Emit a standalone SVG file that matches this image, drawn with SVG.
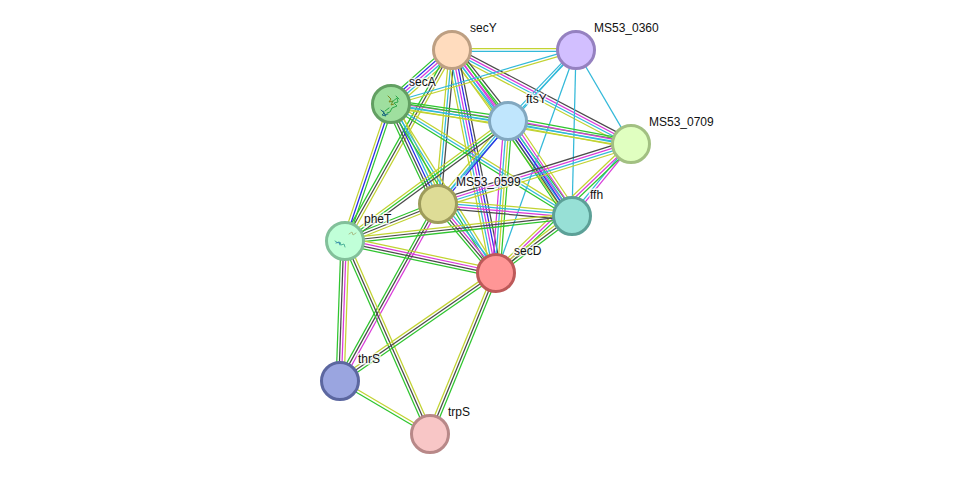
<svg xmlns="http://www.w3.org/2000/svg" width="975" height="479" viewBox="0 0 975 479">
<style>
  text { font-family: "Liberation Sans", Arial, sans-serif; font-size: 12px; fill: #111; stroke: #fff; stroke-opacity: .75; stroke-width: 3px; paint-order: stroke; }
  .n { stroke-width: 3; }
  #edges path { fill: none; stroke-width: 1.25; }
  .y { stroke: #c2d332; } .c { stroke: #33b9d9; } .m { stroke: #d93ad9; }
  .k { stroke: #4a4a4a; } .g { stroke: #2fc52f; } .b { stroke: #2a2ae6; }
  .fold { fill: none; stroke-width: 1; stroke-linecap: round; }
</style>
<rect width="975" height="479" fill="#fff"/>
<g id="edges">
  <g transform="translate(452 50)"><path class="y" d="M0-1.3H124"/><path class="c" d="M0 1.3H124"/></g>
  <g transform="translate(452 50) rotate(27.7)"><path class="k" d="M0-4H202"/><path class="m" d="M0-1.3H202"/><path class="c" d="M0 1.3H202"/><path class="y" d="M0 4H202"/></g>
  <g transform="translate(452 50) rotate(51.7)"><path class="k" d="M0-5.4H90"/><path class="g" d="M0-2.7H90"/><path class="m" d="M0 0H90"/><path class="c" d="M0 2.7H90"/><path class="y" d="M0 5.4H90"/></g>
  <g transform="translate(391 104) rotate(-41.5)"><path class="g" d="M0-5.4H82"/><path class="b" d="M0-2.7H82"/><path class="m" d="M0 0H82"/><path class="c" d="M0 2.7H82"/><path class="y" d="M0 5.4H82"/></g>
  <g transform="translate(452 50) rotate(95.2)"><path class="k" d="M0-2.7H155"/><path class="c" d="M0 0H155"/><path class="y" d="M0 2.7H155"/></g>
  <g transform="translate(452 50) rotate(54.1)"><path class="g" d="M0-4H205"/><path class="m" d="M0-1.3H205"/><path class="c" d="M0 1.3H205"/><path class="y" d="M0 4H205"/></g>
  <g transform="translate(452 50) rotate(78.8)"><path class="k" d="M0-5.4H227"/><path class="b" d="M0-2.7H227"/><path class="m" d="M0 0H227"/><path class="c" d="M0 2.7H227"/><path class="y" d="M0 5.4H227"/></g>
  <g transform="translate(452 50) rotate(119.3)"><path class="y" d="M0-2.7H219"/><path class="k" d="M0 0H219"/><path class="g" d="M0 2.7H219"/></g>
  <g transform="translate(391 104) rotate(-16.3)"><path class="c" d="M0-1.3H193"/><path class="y" d="M0 1.3H193"/></g>
  <g transform="translate(576 50) rotate(133.8)"><path class="c" d="M0-1.3H98"/><path class="c" d="M0 1.3H98"/></g>
  <path class="c" transform="translate(576 50) rotate(59.7)" d="M0 0H109"/>
  <path class="c" transform="translate(576 50) rotate(91.4)" d="M0 0H166"/>
  <path class="c" transform="translate(576 50) rotate(109.7)" d="M0 0H237"/>
  <path class="c" transform="translate(576 50) rotate(131.9)" d="M0 0H207"/>
  <g transform="translate(391 104) rotate(8.3)"><path class="g" d="M0-4H118"/><path class="m" d="M0-1.3H118"/><path class="c" d="M0 1.3H118"/><path class="y" d="M0 4H118"/></g>
  <g transform="translate(391 104) rotate(9.5)"><path class="g" d="M0-2.7H243"/><path class="c" d="M0 0H243"/><path class="y" d="M0 2.7H243"/></g>
  <g transform="translate(391 104) rotate(64.8)"><path class="y" d="M0-5.4H110"/><path class="c" d="M0-2.7H110"/><path class="b" d="M0 0H110"/><path class="k" d="M0 2.7H110"/><path class="g" d="M0 5.4H110"/></g>
  <g transform="translate(391 104) rotate(31.7)"><path class="y" d="M0-2.7H213"/><path class="c" d="M0 0H213"/><path class="g" d="M0 2.7H213"/></g>
  <g transform="translate(391 104) rotate(58.1)"><path class="y" d="M0-2.7H199"/><path class="c" d="M0 0H199"/><path class="g" d="M0 2.7H199"/></g>
  <g transform="translate(391 104) rotate(108.6)"><path class="g" d="M0-2.7H144"/><path class="b" d="M0 0H144"/><path class="y" d="M0 2.7H144"/></g>
  <g transform="translate(508 121) rotate(10.6)"><path class="g" d="M0-4H125"/><path class="m" d="M0-1.3H125"/><path class="c" d="M0 1.3H125"/><path class="y" d="M0 4H125"/></g>
  <g transform="translate(508 121) rotate(130.1)"><path class="b" d="M0-2.7H109"/><path class="c" d="M0 0H109"/><path class="y" d="M0 2.7H109"/></g>
  <g transform="translate(508 121) rotate(56)"><path class="y" d="M0-6.7H114"/><path class="m" d="M0-4H114"/><path class="c" d="M0-1.3H114"/><path class="b" d="M0 1.3H114"/><path class="k" d="M0 4H114"/><path class="g" d="M0 6.7H114"/></g>
  <g transform="translate(508 121) rotate(94.5)"><path class="g" d="M0-4H152"/><path class="y" d="M0-1.3H152"/><path class="c" d="M0 1.3H152"/><path class="m" d="M0 4H152"/></g>
  <g transform="translate(508 121) rotate(143.6)"><path class="k" d="M0-2.7H202"/><path class="g" d="M0 0H202"/><path class="y" d="M0 2.7H202"/></g>
  <g transform="translate(438 204) rotate(-17.3)"><path class="k" d="M0-4H202"/><path class="m" d="M0-1.3H202"/><path class="c" d="M0 1.3H202"/><path class="y" d="M0 4H202"/></g>
  <g transform="translate(572 216) rotate(-50.7)"><path class="c" d="M0-1.3H93"/><path class="m" d="M0 1.3H93"/></g>
  <g transform="translate(631 144) rotate(136.3)"><path class="g" d="M0-2.7H186"/><path class="m" d="M0 0H186"/><path class="y" d="M0 2.7H186"/></g>
  <g transform="translate(438 204) rotate(5.1)"><path class="y" d="M0-4H134"/><path class="c" d="M0-1.3H134"/><path class="m" d="M0 1.3H134"/><path class="k" d="M0 4H134"/></g>
  <g transform="translate(438 204) rotate(49.9)"><path class="c" d="M0-4H90"/><path class="m" d="M0-1.3H90"/><path class="k" d="M0 1.3H90"/><path class="g" d="M0 4H90"/></g>
  <g transform="translate(345 241) rotate(-21.7)"><path class="g" d="M0-2.7H100"/><path class="k" d="M0 0H100"/><path class="y" d="M0 2.7H100"/></g>
  <g transform="translate(438 204) rotate(119)"><path class="m" d="M0-2.7H202"/><path class="k" d="M0 0H202"/><path class="g" d="M0 2.7H202"/></g>
  <g transform="translate(345 241) rotate(-6.3)"><path class="y" d="M0-2.7H228"/><path class="k" d="M0 0H228"/><path class="g" d="M0 2.7H228"/></g>
  <g transform="translate(572 216) rotate(143.1)"><path class="g" d="M0-2.7H95"/><path class="k" d="M0 0H95"/><path class="y" d="M0 2.7H95"/></g>
  <g transform="translate(345 241) rotate(12)"><path class="y" d="M0-4H154"/><path class="m" d="M0-1.3H154"/><path class="k" d="M0 1.3H154"/><path class="g" d="M0 4H154"/></g>
  <g transform="translate(345 241) rotate(92)"><path class="y" d="M0-4H140"/><path class="m" d="M0-1.3H140"/><path class="k" d="M0 1.3H140"/><path class="g" d="M0 4H140"/></g>
  <g transform="translate(345 241) rotate(66.2)"><path class="y" d="M0-2.7H211"/><path class="k" d="M0 0H211"/><path class="g" d="M0 2.7H211"/></g>
  <g transform="translate(340 381) rotate(-34.7)"><path class="y" d="M0-2.7H190"/><path class="k" d="M0 0H190"/><path class="g" d="M0 2.7H190"/></g>
  <g transform="translate(496 273) rotate(112.3)"><path class="g" d="M0-2.7H174"/><path class="k" d="M0 0H174"/><path class="y" d="M0 2.7H174"/></g>
  <g transform="translate(340 381) rotate(30.5)"><path class="y" d="M0-1.4H104"/><path class="g" d="M0 1.4H104"/></g>
</g>
<g id="node-secY"><circle class="n" cx="452" cy="50" r="18.5" fill="#ffdcbe" stroke="#bd9f82"/><text x="470" y="32">secY</text></g>
<g id="node-MS53_0360"><circle class="n" cx="576" cy="50" r="18.5" fill="#d2bfff" stroke="#9581c0"/><text x="594" y="32">MS53_0360</text></g>
<g id="node-secA"><circle class="n" cx="391" cy="104" r="18.5" fill="#9fdf9f" stroke="#629f62"/>
  <path class="fold" stroke="#7d8a20" stroke-width="1.6" d="M388 96l3 3-2 3 4-1-2 4 3-1"/>
  <path class="fold" stroke="#2fa84a" stroke-width="1.4" d="M392 102l5-4 1 4-4 1 3 3-5 2-2 4-3 1M396 96l3 3M389 108l-4 3"/>
  <path class="fold" stroke="#1f6f80" stroke-width="1.4" d="M381 110l3 3-2 2 4 1-3-5M388 114l-4 1"/>
  <text x="409" y="86">secA</text></g>
<g id="node-ftsY"><circle class="n" cx="508" cy="121" r="18.5" fill="#c0e6fd" stroke="#82a8c0"/><text x="526" y="103">ftsY</text></g>
<g id="node-MS53_0709"><circle class="n" cx="631" cy="144" r="18.5" fill="#e0ffc0" stroke="#a2c082"/><text x="649" y="126">MS53_0709</text></g>
<g id="node-MS53_0599"><circle class="n" cx="438" cy="204" r="18.5" fill="#dedc96" stroke="#9e9c5c"/><text x="456" y="186">MS53_0599</text></g>
<g id="node-ffh"><circle class="n" cx="572" cy="216" r="18.5" fill="#97e0d6" stroke="#5ca097"/><text x="590" y="199">ffh</text></g>
<g id="node-pheT"><circle class="n" cx="345" cy="241" r="18.5" fill="#c0ffd8" stroke="#82c09a"/>
  <path class="fold" stroke="#a9bf8a" stroke-width="1.6" d="M349 234l3-2 1 3 3-2"/>
  <path class="fold" stroke="#4fb59a" stroke-width="1.6" d="M335 241l3 2 2-1 1 3 3-1 1 3"/>
  <path class="fold" stroke="#3f8fb0" stroke-width="1.4" d="M336 243l3-1 1 3"/>
  <text x="364" y="223">pheT</text></g>
<g id="node-secD"><circle class="n" cx="496" cy="273" r="18.5" fill="#ff9696" stroke="#bd5959"/><text x="514" y="255">secD</text></g>
<g id="node-thrS"><circle class="n" cx="340" cy="381" r="18.5" fill="#9aa5e0" stroke="#5c67a0"/><text x="358" y="363">thrS</text></g>
<g id="node-trpS"><circle class="n" cx="430" cy="434" r="18.5" fill="#f8c6c6" stroke="#b88888"/><text x="448" y="416">trpS</text></g>
</svg>
